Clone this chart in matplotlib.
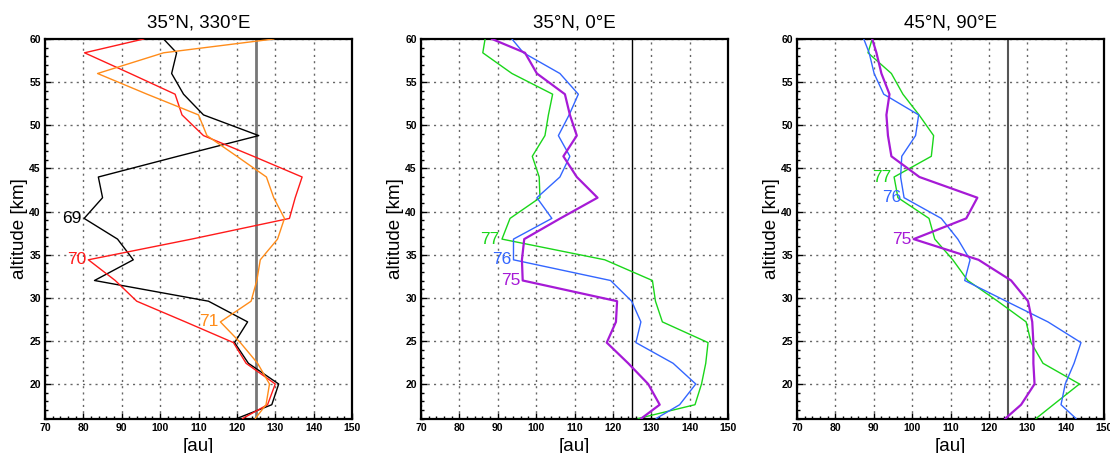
import numpy as np
import matplotlib.pyplot as plt
from matplotlib.ticker import MultipleLocator

# altitude levels [km]
alt = [60, 58.4, 56, 53.6, 51.2, 48.8, 46.4, 44, 41.6, 39.2, 36.8,
       34.4, 32, 29.6, 27.2, 24.8, 22.4, 20, 17.6, 16]

# 35N, 330E
p1_69 = [100.9, 104.3, 103.0, 106.1, 111.3, 125.7, 104.6, 83.9, 85.0, 80.2,
         88.9, 93.0, 82.9, 112.6, 122.8, 119.4, 123.0, 130.9, 129.1, 120.0]
p1_70 = [95.7, 80.3, 92.2, 103.9, 105.7, 111.3, 124.3, 137.0, 135.2, 133.7,
         108.2, 81.3, 88.3, 93.9, 106.6, 119.1, 122.4, 130.0, 128.0, 121.5]
p1_71 = [129.6, 100.9, 83.7, 96.6, 110.0, 112.2, 120.0, 127.7, 129.6, 132.4,
         130.6, 126.1, 125.2, 123.7, 115.7, 120.9, 125.4, 128.5, 127.6, 124.8]

# 35N, 0E
p2_77 = [86.7, 86.1, 93.7, 104.3, 103.2, 102.3, 99.0, 100.8, 101.0, 93.2,
         91.1, 117.9, 130.3, 131.1, 132.9, 144.8, 144.2, 143.1, 141.4, 126.6]
p2_76 = [93.7, 96.7, 106.2, 111.0, 108.6, 105.8, 108.8, 106.2, 100.2, 104.1,
         94.1, 94.1, 119.4, 124.9, 127.3, 126.0, 135.7, 141.6, 137.4, 131.3]
p2_75 = [88.5, 97.1, 100.2, 107.5, 108.8, 110.6, 107.1, 110.6, 116.0, 106.3,
         96.9, 96.3, 96.5, 121.1, 120.8, 118.4, 124.0, 129.2, 132.2, 127.4]

# 45N, 90E
p3_77 = [89.6, 88.5, 94.6, 97.6, 101.8, 105.6, 105.0, 95.3, 96.3, 104.4,
         105.9, 110.6, 114.5, 122.3, 129.7, 131.0, 134.1, 143.6, 136.8, 132.3]
p3_76 = [87.4, 88.8, 90.1, 92.6, 101.7, 100.9, 97.3, 97.0, 97.9, 107.6,
         111.9, 115.1, 113.7, 124.5, 135.4, 144.0, 142.2, 139.9, 138.8, 142.7]
p3_75 = [89.6, 90.7, 92.0, 94.1, 93.3, 93.7, 94.6, 101.9, 117.0, 114.1,
         100.4, 117.3, 125.8, 130.2, 131.3, 131.6, 131.6, 131.9, 128.4, 124.3]

titles = ["35°N, 330°E", "35°N, 0°E", "45°N, 90°E"]

BLACK, RED, ORANGE = "black", "#ff1a1a", "#ff8c1a"
GREEN, BLUE, PURPLE = "#1ad61a", "#3366ff", "#a61ad6"

panels = [
    [(p1_69, BLACK, 1.0, "69", 39.2), (p1_70, RED, 1.0, "70", 34.4),
     (p1_71, ORANGE, 1.0, "71", 27.2)],
    [(p2_77, GREEN, 1.0, "77", 36.8), (p2_76, BLUE, 1.0, "76", 34.4),
     (p2_75, PURPLE, 1.6, "75", 32)],
    [(p3_77, GREEN, 1.0, "77", 44), (p3_76, BLUE, 1.0, "76", 41.6),
     (p3_75, PURPLE, 1.6, "75", 36.8)],
]
refline = [("#777777", 2.0), ("black", 1.0), ("#555555", 1.5)]
lefts = [45, 421, 797]

plt.rcParams['font.family'] = ['Liberation Sans', 'DejaVu Sans']
fig = plt.figure(figsize=(11.1, 4.53), dpi=100)

for i in range(3):
    ax = fig.add_axes([lefts[i] / 1110, 34.5 / 453, 307 / 1110, 379.5 / 453])
    ax.axvline(125, color=refline[i][0], lw=refline[i][1], zorder=2)
    for vals, col, lw, lab, lev in panels[i]:
        ax.plot(vals, alt, color=col, lw=lw, zorder=3)
        k = alt.index(lev)
        ax.text(vals[k] - 0.6, lev, lab, color=col, fontsize=12.5,
                ha="right", va="center")
    ax.set_xlim(70, 150)
    ax.set_ylim(16, 60)
    ax.xaxis.set_major_locator(MultipleLocator(10))
    ax.yaxis.set_major_locator(MultipleLocator(5))
    ax.xaxis.set_minor_locator(MultipleLocator(2))
    ax.yaxis.set_minor_locator(MultipleLocator(1))
    ax.grid(True, which="major", ls=(0, (1.5, 3)), color="#666666", lw=1.0)
    ax.tick_params(which="both", direction="in", labelsize=7.5, width=1)
    ax.tick_params(which="major", length=4, pad=3)
    ax.tick_params(which="minor", length=2)
    for t in ax.get_xticklabels() + ax.get_yticklabels():
        t.set_fontweight("bold")
    for s in ax.spines.values():
        s.set_linewidth(1.6)
    ax.set_title(titles[i], fontsize=13.5, pad=8)
    ax.set_xlabel("[au]", fontsize=13.5, labelpad=4)
    ax.set_ylabel("altitude [km]", fontsize=13.5, labelpad=1)

fig.savefig("out.png", dpi=100)
